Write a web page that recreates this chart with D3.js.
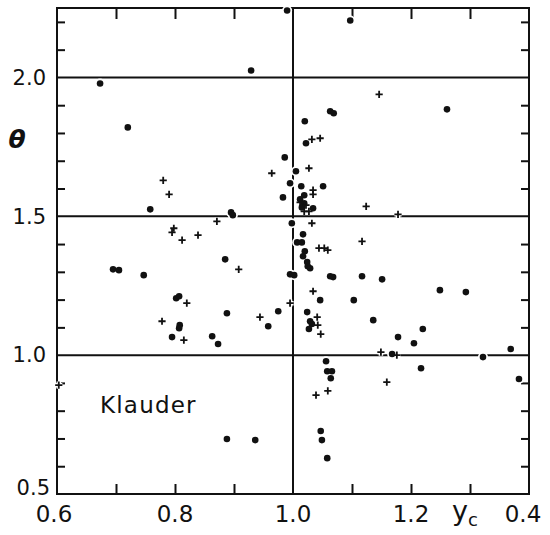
<!DOCTYPE html>
<html>
<head>
<meta charset="utf-8">
<script src="https://cdn.jsdelivr.net/npm/d3@7"></script>
<style>
  body { margin: 0; background: #fff; }
  text { font-family: "DejaVu Sans", sans-serif; fill: #111; }
</style>
</head>
<body>
<div id="chart"></div>
<script>
// values (y_c, theta)
const dots = [
  [0.673, 1.978], [0.720, 1.820], [0.929, 2.025], [0.990, 2.241], [1.097, 2.205],
  [0.758, 1.525], [0.895, 1.514], [0.898, 1.504], [0.885, 1.345], [0.747, 1.288],
  [0.695, 1.309], [0.705, 1.306], [0.802, 1.205], [0.807, 1.212], [0.888, 1.151],
  [0.958, 1.104], [0.808, 1.108], [0.807, 1.097], [0.795, 1.065], [0.863, 1.068],
  [0.873, 1.040], [0.888, 0.698], [0.936, 0.694], [1.063, 1.878], [1.069, 1.871],
  [1.261, 1.885], [1.020, 1.842], [1.022, 1.763], [0.986, 1.712], [1.005, 1.662],
  [0.995, 1.619], [0.983, 1.568], [1.014, 1.608], [1.019, 1.576], [1.051, 1.608],
  [1.034, 1.529], [1.012, 1.561], [1.019, 1.547], [1.015, 1.532], [0.998, 1.475],
  [1.017, 1.435], [1.007, 1.406], [1.015, 1.406], [1.020, 1.374], [1.017, 1.356],
  [1.024, 1.335], [1.025, 1.320], [1.029, 1.313], [0.995, 1.291], [1.002, 1.288],
  [1.063, 1.284], [1.068, 1.281], [1.117, 1.284], [1.151, 1.273], [1.249, 1.234],
  [1.293, 1.227], [1.046, 1.198], [1.103, 1.198], [0.975, 1.158], [1.024, 1.155],
  [1.029, 1.122], [1.032, 1.112], [1.027, 1.094], [1.136, 1.126], [1.178, 1.065],
  [1.220, 1.094], [1.205, 1.043], [1.168, 1.004], [1.322, 0.993], [1.369, 1.022],
  [1.383, 0.914], [1.217, 0.953], [1.056, 0.978], [1.058, 0.942], [1.066, 0.942],
  [1.064, 0.917], [1.047, 0.727], [1.049, 0.694], [1.058, 0.629]
];
const crosses = [
  [0.780, 1.629], [0.790, 1.579], [0.798, 1.457], [0.795, 1.442], [0.812, 1.414],
  [0.839, 1.432], [0.871, 1.482], [0.908, 1.309], [0.964, 1.655], [0.820, 1.187],
  [0.778, 1.122], [0.815, 1.054], [0.944, 1.137], [0.603, 0.892], [0.995, 1.187],
  [1.027, 1.673], [1.032, 1.777], [1.046, 1.781], [1.146, 1.939], [1.034, 1.594],
  [1.034, 1.579], [1.012, 1.550], [1.022, 1.540], [1.019, 1.518], [1.027, 1.518],
  [1.032, 1.475], [1.044, 1.385], [1.053, 1.385], [1.059, 1.378], [1.117, 1.410],
  [1.124, 1.536], [1.178, 1.507], [1.034, 1.230], [1.041, 1.137], [1.042, 1.108],
  [1.047, 1.076], [1.149, 1.011], [1.176, 1.000], [1.159, 0.903], [1.039, 0.856],
  [1.059, 0.871]
];
const xTicks = [0.7, 0.8, 0.9, 1.1, 1.2, 1.3];
const yTicks = [0.6, 0.7, 0.8, 0.9, 1.1, 1.2, 1.3, 1.4, 1.6, 1.7, 1.8, 1.9, 2.1, 2.2];
const xRefLines = [1.0];
const yRefLines = [1.0, 1.5, 2.0];
const xLabelVals = [0.6, 0.8, 1.0, 1.2, 1.4];
const xLabelText = ["0.6", "0.8", "1.0", "1.2", "0.4"];
const yLabelVals = [0.5, 1.0, 1.5, 2.0];
const yLabelText = ["0.5", "1.0", "1.5", "2.0"];

const width = 550, height = 535;
const svg = d3.select("#chart").append("svg")
  .attr("width", width).attr("height", height);

const x = d3.scaleLinear().domain([0.6, 1.4]).range([57, 529]);
const y = d3.scaleLinear().domain([0.5, 2.25]).range([494, 8]);
const [x0, x1] = x.range(), [y0, y1] = y.range();

// reference lines
svg.append("g").selectAll("line").data(yRefLines).join("line")
  .attr("x1", x0).attr("x2", x1)
  .attr("y1", d => y(d)).attr("y2", d => y(d))
  .attr("stroke", "#111").attr("stroke-width", 2);
svg.append("g").selectAll("line").data(xRefLines).join("line")
  .attr("x1", d => x(d)).attr("x2", d => x(d))
  .attr("y1", y1).attr("y2", y0)
  .attr("stroke", "#111").attr("stroke-width", 2);

// inward ticks on all four sides
const tickAxis = (axis, tf, size) => {
  const g = svg.append("g").attr("transform", tf)
    .call(axis.tickSize(size).tickFormat(""));
  g.select(".domain").remove();
  g.selectAll(".tick line").attr("stroke", "#111").attr("stroke-width", 2);
};
tickAxis(d3.axisBottom(x).tickValues(xTicks), `translate(0,${y1})`, 11);
tickAxis(d3.axisTop(x).tickValues(xTicks), `translate(0,${y0})`, 10);
tickAxis(d3.axisRight(y).tickValues(yTicks), `translate(${x0},0)`, 8);
tickAxis(d3.axisLeft(y).tickValues(yTicks), `translate(${x1},0)`, 8);

// frame
svg.append("rect")
  .attr("x", x0).attr("y", y1)
  .attr("width", x1 - x0).attr("height", y0 - y1)
  .attr("fill", "none").attr("stroke", "#111").attr("stroke-width", 2);

// marks: white halo first, then the symbols
const crossPath = d => {
  const cx = x(d[0]), cy = y(d[1]), s = 3.6;
  return `M${cx - s},${cy}H${cx + s}M${cx},${cy - s}V${cy + s}`;
};
const halo = svg.append("g");
halo.selectAll("circle").data(dots).join("circle")
  .attr("cx", d => x(d[0])).attr("cy", d => y(d[1])).attr("r", 5)
  .attr("fill", "#fff");
halo.selectAll("path").data(crosses).join("path")
  .attr("d", crossPath).attr("stroke", "#fff").attr("stroke-width", 4.5);

svg.append("g").selectAll("circle").data(dots).join("circle")
  .attr("cx", d => x(d[0])).attr("cy", d => y(d[1])).attr("r", 3.3)
  .attr("fill", "#111");
svg.append("g").selectAll("path").data(crosses).join("path")
  .attr("d", crossPath).attr("stroke", "#111").attr("stroke-width", 1.8)
  .attr("fill", "none");

// tick labels
svg.append("g").selectAll("text").data(xLabelVals).join("text")
  .attr("x", (d, i) => x(d) + (i === 0 ? -3 : i === xLabelVals.length - 1 ? -6 : 0))
  .attr("y", 522)
  .attr("text-anchor", "middle")
  .attr("font-size", 23)
  .text((d, i) => xLabelText[i]);
svg.append("g").selectAll("text").data(yLabelVals).join("text")
  .attr("x", (d, i) => i === 0 ? 50 : 46)
  .attr("y", (d, i) => i === 0 ? 495 : y(d))
  .attr("dy", (d, i) => i === 0 ? 0 : "0.35em")
  .attr("text-anchor", "end")
  .attr("font-size", 21)
  .text((d, i) => yLabelText[i]);

// axis titles and annotation
svg.append("text")
  .attr("x", 17).attr("y", 148)
  .attr("text-anchor", "middle")
  .attr("font-family", "DejaVu Serif")
  .attr("font-weight", "bold").attr("font-style", "italic")
  .attr("font-size", 25)
  .text("θ");
const yc = svg.append("text").attr("x", 452).attr("y", 520).attr("font-size", 27);
yc.append("tspan").text("y");
yc.append("tspan").attr("dy", 6).attr("font-size", 18).text("c");

svg.append("text")
  .attr("x", 100).attr("y", 413)
  .attr("font-size", 23)
  .attr("letter-spacing", 1.2)
  .text("Klauder");
</script>
</body>
</html>
